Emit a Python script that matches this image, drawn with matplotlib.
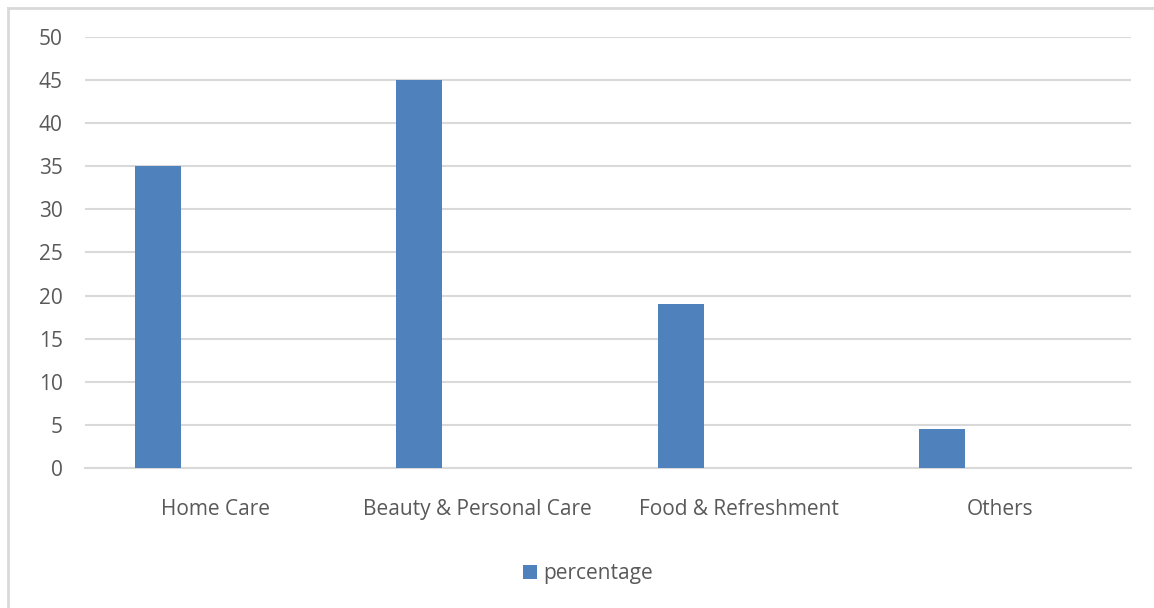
import matplotlib
matplotlib.use("Agg")
import matplotlib.pyplot as plt
import numpy as np

categories = ["Home Care", "Beauty & Personal Care", "Food & Refreshment", "Others"]
percentage = [35, 45, 19, 4.5]
yticks = [0, 5, 10, 15, 20, 25, 30, 35, 40, 45, 50]

bar_col = "#4f81bd"
txt_col = "#595959"
grid_col = "#d9d9d9"

plt.rcParams['font.family'] = ['Open Sans', 'DejaVu Sans']

fig = plt.figure(figsize=(11.54, 6.08), dpi=100)
ax = fig.add_axes([85/1154, 1 - 468/608, (1131 - 85)/1154, (468 - 37)/608])

x = np.arange(len(categories))
ax.bar(x - 0.222, percentage, width=0.176, color=bar_col, label="percentage", zorder=3)

ax.set_xlim(-0.5, len(categories) - 0.5)
ax.set_ylim(0, 50)
ax.set_yticks(yticks)
ax.set_xticks(x)
ax.set_xticklabels(categories)
ax.yaxis.grid(True, color=grid_col, linewidth=1.5, zorder=0)
ax.tick_params(axis='both', length=0, labelsize=15, colors=txt_col)
ax.tick_params(axis='y', pad=16)
ax.tick_params(axis='x', pad=22)
for s in ["top", "right", "left"]:
    ax.spines[s].set_visible(False)
ax.spines["bottom"].set_color(grid_col)
ax.spines["bottom"].set_linewidth(1.5)

# chart border (only top and left edges are in the crop)
fig.add_artist(plt.Line2D([7.5/1154, 1], [1 - 7.5/608, 1 - 7.5/608], color=grid_col, linewidth=2))
fig.add_artist(plt.Line2D([7.5/1154, 7.5/1154], [0, 1 - 7.5/608], color=grid_col, linewidth=2))

leg = fig.legend(loc="center", bbox_to_anchor=(588/1154, 1 - 574/608), frameon=False,
                 fontsize=15, handlelength=0.65, handleheight=0.65, handletextpad=0.3)
for t in leg.get_texts():
    t.set_color(txt_col)

fig.savefig("out.png", dpi=100)
